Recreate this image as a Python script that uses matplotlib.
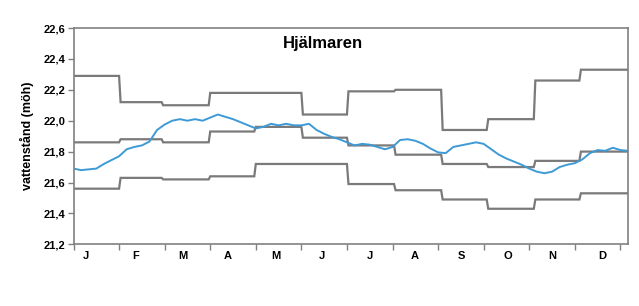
import numpy as np
import matplotlib
matplotlib.use("Agg")
import matplotlib.pyplot as plt
from matplotlib.ticker import FuncFormatter, FixedLocator

plt.rcParams['font.family'] = ['Liberation Sans', 'DejaVu Sans']

# ---- data ----
month_labels = ["J", "F", "M", "A", "M", "J", "J", "A", "S", "O", "N", "D"]
month_lengths = [31, 28, 31, 30, 31, 30, 31, 31, 30, 31, 30, 31]
upper = [22.29, 22.12, 22.10, 22.18, 22.18, 22.04, 22.19, 22.20, 21.94, 22.01, 22.26, 22.33]
middle = [21.86, 21.88, 21.86, 21.93, 21.96, 21.89, 21.84, 21.78, 21.72, 21.70, 21.74, 21.80]
lower = [21.56, 21.63, 21.62, 21.64, 21.72, 21.72, 21.59, 21.55, 21.49, 21.43, 21.49, 21.53]

level_days = list(range(0, 366, 5))
level = [21.69, 21.68, 21.685, 21.69, 21.72, 21.745, 21.77, 21.815, 21.83, 21.84,
         21.865, 21.94, 21.975, 22.00, 22.01, 22.00, 22.01, 22.00, 22.02, 22.04,
         22.025, 22.01, 21.99, 21.97, 21.95, 21.96, 21.98, 21.97, 21.98, 21.97,
         21.97, 21.98, 21.94, 21.915, 21.895, 21.88, 21.86, 21.84, 21.85, 21.845,
         21.83, 21.815, 21.83, 21.875, 21.88, 21.87, 21.85, 21.82, 21.795, 21.79,
         21.83, 21.84, 21.85, 21.86, 21.85, 21.815, 21.78, 21.755, 21.735, 21.715,
         21.69, 21.67, 21.66, 21.67, 21.70, 21.715, 21.725, 21.75, 21.79, 21.81,
         21.805, 21.825, 21.81, 21.805]

yticks = [21.2, 21.4, 21.6, 21.8, 22.0, 22.2, 22.4, 22.6]
label_days = [8, 41, 72, 101.5, 133, 163.6, 195, 224.5, 255.3, 286, 315.3, 347.8]

# ---- figure ----
W, H = 639, 306
fig = plt.figure(figsize=(W / 100, H / 100), dpi=100)
ax = fig.add_axes([73.5 / W, (H - 244.3) / H, (628 - 73.5) / W, (244.3 - 28) / H])

days = np.arange(366)
def daily(vals):
    d = np.repeat(vals, month_lengths)
    return np.append(d, d[-1])

grey = '#7a7a7a'
for s in (upper, middle, lower):
    ax.plot(days, daily(s), color=grey, lw=1.6, solid_joinstyle='miter')

ax.plot(level_days, level, color='#3d9ad6', lw=1.4)

ax.set_xlim(0, 365)
ax.set_ylim(21.2, 22.6)

ax.set_yticks(yticks)
ax.yaxis.set_major_formatter(FuncFormatter(lambda v, p: f"{v:.1f}".replace('.', ',')))
ax.tick_params(axis='y', direction='out', length=4, width=1, color='#808080',
               labelsize=8, pad=2)
for t in ax.get_yticklabels():
    t.set_fontweight('bold')

ax.set_xticks(np.arange(0, 361, 30))
ax.set_xticklabels([])
ax.xaxis.set_minor_locator(FixedLocator(label_days))
ax.set_xticklabels(month_labels, minor=True)
ax.tick_params(axis='x', which='major', direction='out', length=4, width=1, color='#808080')
ax.tick_params(axis='x', which='minor', length=0, labelsize=8, pad=5)
for t in ax.get_xticklabels(minor=True):
    t.set_fontweight('bold')

for sp in ax.spines.values():
    sp.set_color('#808080')
    sp.set_linewidth(1.2)

ax.set_ylabel('vattenstånd (möh)', fontsize=9, fontweight='bold', labelpad=7)
ax.text(0.45, 0.93, 'Hjälmaren', transform=ax.transAxes, ha='center', va='center',
        fontsize=12, fontweight='bold')

fig.savefig('out.png', dpi=100)
